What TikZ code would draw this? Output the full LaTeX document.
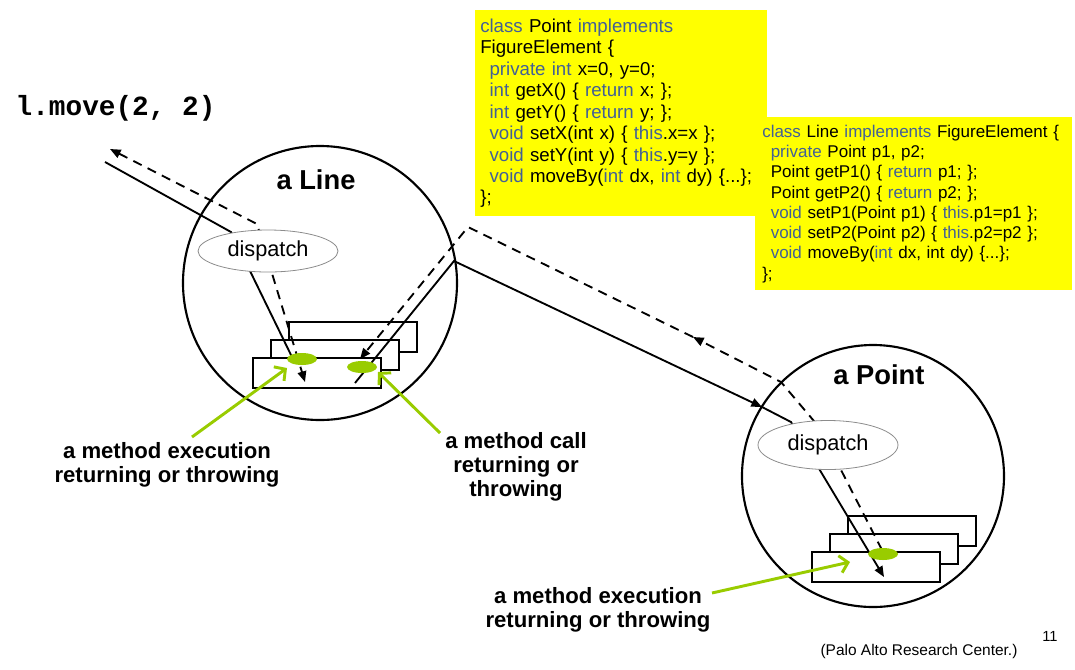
\documentclass[tikz,border=0pt]{standalone}
\usepackage{fontspec}
\setmainfont{Liberation Sans}
\newfontfamily\codemono{Liberation Mono}
\usetikzlibrary{shapes.geometric, arrows.meta}
\definecolor{kwblue}{RGB}{66,96,150}
\definecolor{codeyellow}{RGB}{255,255,0}
\definecolor{jpgreen}{RGB}{153,204,0}
\definecolor{dispgray}{RGB}{140,140,140}
\newcommand{\kw}[1]{\textcolor{kwblue}{#1}}
\newcommand{\ind}{\hspace*{0.5em}}

\begin{document}
\begin{tikzpicture}[x=0.75pt, y=-0.75pt,
        obj/.style={circle, draw, line width=1.6pt, inner sep=0pt},
        disp/.style={ellipse, draw=dispgray, fill=white, line width=0.6pt, inner sep=0pt, minimum width=105pt, font=\fontsize{16.3}{19}\selectfont},
        card/.style={rectangle, draw, fill=white, line width=1.3pt, inner sep=0pt, minimum width=96pt, minimum height=22.5pt},
        joinpt/.style={ellipse, fill=jpgreen, inner sep=0pt, minimum width=22.5pt, minimum height=9pt},
        code/.style={rectangle, fill=codeyellow, anchor=north west, align=left, inner ysep=0pt},
        note/.style={align=center, font=\bfseries\fontsize{16.6}{18}\selectfont},
        title/.style={anchor=base, font=\bfseries\fontsize{20.5}{24}\selectfont},
        call/.style={line width=1.4pt},
        ret/.style={call, dash pattern=on 7pt off 5pt},
        arrowed/.style={-{Triangle[length=8pt,width=6.5pt]}},
        bothways/.style={{Triangle[length=8pt,width=6.5pt]}-{Triangle[length=8pt,width=6.5pt]}},
        hint/.style={draw=jpgreen, line width=2.2pt, -{Straight Barb[length=6pt,width=13pt]}}
    ]
        \useasboundingbox (0,0) rectangle (1075,669);

        % the two source boxes
        \node[code, text width=211.5pt, inner xsep=3.75pt, minimum height=154.5pt, font=\fontsize{14}{16.1}\selectfont] (pointcode) at (475,10) {%
            \kw{class} Point \kw{implements}\\
            FigureElement \{\\
            \ind\kw{private int} x=0, y=0;\\
            \ind\kw{int} getX() \{ \kw{return} x; \};\\
            \ind\kw{int} getY() \{ \kw{return} y; \};\\
            \ind\kw{void} setX(int x) \{ \kw{this}.x=x \};\\
            \ind\kw{void} setY(int y) \{ \kw{this}.y=y \};\\
            \ind\kw{void} moveBy(\kw{int} dx, \kw{int} dy) \{...\};\\
            \};};
        \node[code, text width=227.25pt, inner xsep=5.25pt, minimum height=129.75pt, font=\fontsize{12.75}{15.2}\selectfont] (linecode) at (755,117) {%
            \kw{class} Line \kw{implements} FigureElement \{\\
            \ind\kw{private} Point p1, p2;\\
            \ind Point getP1() \{ \kw{return} p1; \};\\
            \ind Point getP2() \{ \kw{return} p2; \};\\
            \ind\kw{void} setP1(Point p1) \{ \kw{this}.p1=p1 \};\\
            \ind\kw{void} setP2(Point p2) \{ \kw{this}.p2=p2 \};\\
            \ind\kw{void} moveBy(\kw{int} dx, int dy) \{...\};\\
            \};};

        % objects
        \node[obj, minimum size=205.5pt] (lineobj) at (320,283) {};
        \node[obj, minimum size=196.5pt] (pointobj) at (873,476) {};

        \node[card] (lcard3) at (353,337) {};
        \node[card] (lcard2) at (335,355) {};
        \node[card] (lcard1) at (317,373) {};
        \node[card] (pcard3) at (912,531) {};
        \node[card] (pcard2) at (894,549) {};
        \node[card] (pcard1) at (876,567) {};

        % call and return paths
        \coordinate (callin) at (105,162);
        \coordinate (bendA) at (231,232);
        \coordinate (execA) at (292,357);
        \coordinate (retout) at (110,149);
        \coordinate (bendB) at (257,224);
        \coordinate (retA) at (305,382);
        \coordinate (callout) at (355,383);
        \coordinate (exitL) at (454,261);
        \coordinate (enterP) at (762,407);
        \coordinate (bendP) at (791,422);
        \coordinate (execP) at (884,577);
        \coordinate (retP) at (882,550);
        \coordinate (bendR) at (819,427);
        \coordinate (crossP) at (781,382);
        \coordinate (midR) at (693,337);
        \coordinate (turnR) at (468,227);
        \coordinate (retL) at (360,359);

        \draw[call] (callin) -- (bendA) -- (execA);
        \draw[ret, bothways] (retout) -- (bendB) -- (retA);
        \draw[call, arrowed] (callout) -- (exitL) -- (enterP);
        \draw[call, arrowed] (enterP) -- (bendP) -- (execP);
        \draw[ret, arrowed] (retP) -- (bendR) -- (crossP) -- (midR);
        \draw[ret, arrowed] (midR) -- (turnR) -- (retL);

        \node[joinpt] (jpexec) at (302,359) {};
        \node[joinpt] (jpcall) at (362,367) {};
        \node[joinpt] (jppoint) at (883,554) {};

        \node[disp, minimum height=31.5pt] (linedisp) at (268,251) {dispatch};
        \node[disp, minimum height=36.75pt] (pointdisp) at (828,445) {dispatch};

        % labels
        \node[anchor=base west, font=\codemono\bfseries\fontsize{20.8}{24}\selectfont] (msg) at (11,115) {l.move(2, 2)};
        \node[title] (linetitle) at (316,189) {a Line};
        \node[title] (pointtitle) at (879,384) {a Point};

        \node[note] (execnote) at (167,465) {a method execution\\returning or throwing};
        \node[note] (callnote) at (516,467) {a method call\\returning or\\throwing};
        \node[note] (pexecnote) at (598,610) {a method execution\\returning or throwing};

        \coordinate (hintA) at (192,437);
        \coordinate (tipA) at (287,368);
        \coordinate (hintB) at (440,433);
        \coordinate (tipB) at (378,372);
        \coordinate (hintC) at (712,593);
        \coordinate (tipC) at (850,562);
        \draw[hint] (hintA) -- (tipA);
        \draw[hint] (hintB) -- (tipB);
        \draw[hint] (hintC) -- (tipC);

        \node[font=\fontsize{11}{13}\selectfont] (pagenum) at (1050,636) {11};
        \node[font=\fontsize{11.6}{14}\selectfont] (credit) at (919,651) {(Palo Alto Research Center.)};
\end{tikzpicture}
\end{document}
